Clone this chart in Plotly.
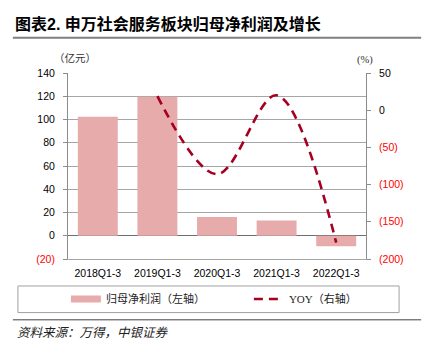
import plotly.graph_objects as go

# Data
periods = ["2018Q1-3", "2019Q1-3", "2020Q1-3", "2021Q1-3", "2022Q1-3"]
net_profit = [102.4, 119.5, 16.2, 13.1, -9.0]      # 亿元
yoy = [None, 19.0, -86.0, 20.0, -178.0]            # %

left_ticks = [-20, 0, 20, 40, 60, 80, 100, 120, 140]
right_ticks = [-200, -150, -100, -50, 0, 50]

BAR_COLOR = "#E8ABAB"
LINE_COLOR = "#A50021"
RED = "#FF0000"
GRID = "#A6A6A6"
AXIS = "#8C8C8C"
NUM_FONT = "Arial, Liberation Sans, sans-serif"
CJK_FONT = "Noto Sans CJK SC, sans-serif"
LEGEND_FONT = dict(family="Liberation Serif, Noto Sans CJK SC, serif", size=11, color="#222")


def fmt(v):
    if v < 0:
        return f'<span style="color:{RED}">({abs(v)})</span>'
    return str(v)


fig = go.Figure()

fig.add_trace(go.Bar(
    x=periods, y=net_profit, marker=dict(color=BAR_COLOR, line=dict(width=0)),
    showlegend=False, yaxis="y", width=0.67,
))
# legend swatch for the bars (wide flat bar like the original legend key)
fig.add_trace(go.Scatter(
    x=[None], y=[None], mode="lines", name="归母净利润（左轴）",
    line=dict(color=BAR_COLOR, width=7), yaxis="y", legend="legend",
))
fig.add_trace(go.Scatter(
    x=periods, y=yoy, mode="lines", name="YOY（右轴）", yaxis="y2", legend="legend2",
    line=dict(color=LINE_COLOR, width=2.6, dash="9px,6px", shape="spline", smoothing=1.0),
    connectgaps=False,
))

fig.update_layout(
    width=430, height=346,
    margin=dict(l=68, r=64, t=73, b=87),
    paper_bgcolor="white", plot_bgcolor="white",
    font=dict(family=NUM_FONT, size=10.5, color="#000"),
    bargap=0.33,
    xaxis=dict(
        type="category", showline=True, linecolor=GRID, linewidth=1,
        ticks="", showgrid=False, zeroline=False,
        tickfont=dict(family=NUM_FONT, size=10.5, color="#000"),
        ticklabelstandoff=4,
    ),
    # category boundary tick marks sitting on the zero line
    xaxis2=dict(
        overlaying="x", anchor="free", position=0.125, range=[-0.5, 4.5],
        tickvals=[0.5, 1.5, 2.5, 3.5], ticks="outside", ticklen=4, tickcolor=AXIS,
        showticklabels=False, showline=False, showgrid=False, zeroline=False,
    ),
    yaxis=dict(
        range=[-20, 140], tickvals=left_ticks, ticktext=[fmt(v) for v in left_ticks],
        showgrid=True, gridcolor=GRID, gridwidth=1,
        zeroline=True, zerolinecolor="#6E6E6E", zerolinewidth=1,
        showline=True, linecolor=AXIS, linewidth=1,
        ticks="outside", ticklen=4, tickcolor=AXIS, ticklabelstandoff=6,
        tickfont=dict(family=NUM_FONT, size=10.5),
    ),
    yaxis2=dict(
        range=[-200, 50], tickvals=right_ticks, ticktext=[fmt(v) for v in right_ticks],
        overlaying="y", side="right", showgrid=False, zeroline=False,
        showline=True, linecolor=AXIS, linewidth=1,
        ticks="outside", ticklen=4, tickcolor=AXIS, ticklabelstandoff=6,
        tickfont=dict(family=NUM_FONT, size=10.5),
    ),
    legend=dict(
        orientation="h", x=-0.007, xanchor="left", y=-0.215, yanchor="middle",
        font=LEGEND_FONT, itemwidth=30,
        bgcolor="rgba(0,0,0,0)", borderwidth=0,
    ),
    legend2=dict(
        orientation="h", x=0.607, xanchor="left", y=-0.215, yanchor="middle",
        font=LEGEND_FONT, itemwidth=30,
        bgcolor="rgba(0,0,0,0)", borderwidth=0,
    ),
    shapes=[
        # rule under the title
        dict(type="line", xref="paper", yref="paper", x0=-0.185, x1=1.185, y0=1.189, y1=1.189,
             line=dict(color="#808080", width=2)),
        # legend frame
        dict(type="rect", xref="paper", yref="paper", x0=-0.168, x1=1.111, y0=-0.288, y1=-0.145,
             line=dict(color="#A0A0A0", width=1)),
        # rule above the source note
        dict(type="line", xref="paper", yref="paper", x0=-0.185, x1=1.185, y0=-0.327, y1=-0.327,
             line=dict(color="#404040", width=1)),
    ],
    annotations=[
        dict(text="<b>图表2. 申万社会服务板块归母净利润及增长</b>", xref="paper", yref="paper",
             x=-0.183, y=1.261, xanchor="left", yanchor="middle", showarrow=False,
             font=dict(family="Arial, Noto Sans CJK SC, sans-serif", size=16, color="#000")),
        dict(text="（亿元）", xref="paper", yref="paper", x=0.023, y=1.084,
             xanchor="center", yanchor="middle", showarrow=False,
             font=dict(family=CJK_FONT, size=10.5, color="#333")),
        dict(text="(%)", xref="paper", yref="paper", x=0.997, y=1.068,
             xanchor="center", yanchor="middle", showarrow=False,
             font=dict(family="Liberation Serif, serif", size=10.5, color="#333")),
        dict(text="资料来源：万得，中银证券", xref="paper", yref="paper", x=-0.178, y=-0.392,
             xanchor="left", yanchor="middle", showarrow=False,
             font=dict(family=CJK_FONT, size=12.5, color="#222", style="italic")),
    ],
)

fig.write_html("out.html")
